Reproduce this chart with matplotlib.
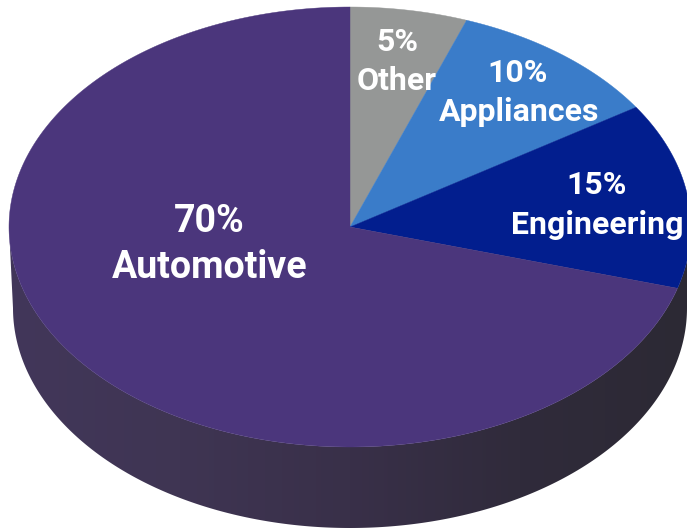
import numpy as np
import matplotlib
matplotlib.use('Agg')
import matplotlib.pyplot as plt
from matplotlib.colors import LinearSegmentedColormap
from matplotlib.patches import Polygon

# share of each segment, clockwise from 12 o'clock
labels = ['Other', 'Appliances', 'Engineering', 'Automotive']
shares = [5, 10, 15, 70]
colors = ['#959796', '#3a7cc9', '#021e8e', '#4b367c']

# label centres as (percent line, name line)
label_pos = [((397, 42), (397, 81)),
             ((518, 73), (519, 112)),
             ((597, 185), (597, 225)),
             ((209, 222), (210, 267))]
label_size = [23, 23, 23, 27]

# disc geometry in pixels
CX, CY = 350, 227
RX, RY = 341, 220
DEPTH = 81
BASE_RX = 337  # base of the wall sits a little narrower than the top
VIEW = 1.12  # the tilted view widens angles a little near the top

plt.rcParams['font.family'] = ['Roboto', 'DejaVu Sans']

fig = plt.figure(figsize=(6.87, 5.29), dpi=100)
ax = fig.add_axes([0, 0, 1, 1])


def rim(a0, a1):
    # points along the ellipse between two share angles (degrees)
    th = np.radians(np.linspace(a0, a1, 300))
    t = np.unwrap(np.arctan2(VIEW * np.sin(th), np.cos(th)))
    return CX + RX * np.sin(t), CY - RY * np.cos(t)


# side wall, dark shaded towards the right
t = np.linspace(np.pi / 2, 3 * np.pi / 2, 300)
top_x = CX + RX * np.sin(t)
top_y = CY - RY * np.cos(t)
base_x = CX + BASE_RX * np.sin(t)
base_y = CY + DEPTH - RY * np.cos(t)
wall = np.column_stack([np.r_[top_x, base_x[::-1]], np.r_[top_y, base_y[::-1]]])
wall_cmap = LinearSegmentedColormap.from_list('wall', ['#42375a', '#3f3553', '#393049', '#302b3b', '#2c2934'])
img = ax.imshow(np.linspace(0, 1, 256)[None, :], cmap=wall_cmap, aspect='auto',
                extent=[CX - RX, CX + RX, 529, 0], zorder=1)
patch = Polygon(wall, closed=True, transform=ax.transData, fc='none', ec='none')
ax.add_patch(patch)
img.set_clip_path(patch)

# top face
ends = np.cumsum(shares) * 3.6
starts = np.r_[0, ends[:-1]]
for a0, a1, c in zip(starts, ends, colors):
    x, y = rim(a0, a1)
    ax.fill(np.r_[CX, x], np.r_[CY, y], color=c, lw=0.3, zorder=2)

for name, share, (p_pos, n_pos), size in zip(labels, shares, label_pos, label_size):
    ax.text(*p_pos, f'{share}%', color='white', fontsize=size, fontweight='bold',
            ha='center', va='center', zorder=3)
    ax.text(*n_pos, name, color='white', fontsize=size, fontweight='bold',
            ha='center', va='center', zorder=3)

ax.set_xlim(0, 687)
ax.set_ylim(529, 0)
ax.axis('off')

fig.savefig('out.png', dpi=100)
